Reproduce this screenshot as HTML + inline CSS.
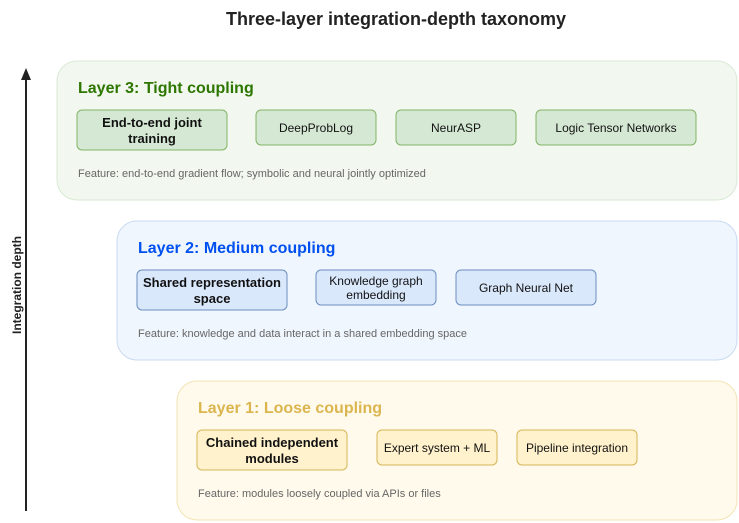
<!DOCTYPE html>
<html><head><meta charset="utf-8"><style>
html,body{margin:0;padding:0;background:#fff}
svg{display:block;font-family:"Liberation Sans",Arial,sans-serif}
</style></head><body>
<svg width="739" height="523" viewBox="0 0 739 523" xmlns="http://www.w3.org/2000/svg">
<text x="396" y="25" font-size="18" font-weight="bold" text-anchor="middle" fill="#222">Three-layer integration-depth taxonomy</text>
<line x1="26" y1="78" x2="26" y2="511" stroke="#222" stroke-width="2"/>
<polygon points="26,68 21,80 31,80" fill="#222"/>
<text transform="translate(21,285) rotate(-90)" font-size="12" font-weight="bold" text-anchor="middle" fill="#222">Integration depth</text>

<!-- Layer 3 -->
<rect x="57" y="61" width="680" height="139" rx="20" fill="#f2f8ef" stroke="#d9e9d5"/>
<text x="78" y="93" font-size="16" font-weight="bold" fill="#2d7600">Layer 3: Tight coupling</text>
<rect x="77" y="110" width="150" height="40" rx="5" fill="#d5e8d4" stroke="#82b366"/>
<text x="152" y="127" font-size="13" font-weight="bold" text-anchor="middle" fill="#111">End-to-end joint</text>
<text x="152" y="143" font-size="13" font-weight="bold" text-anchor="middle" fill="#111">training</text>
<rect x="256" y="110" width="120" height="35" rx="5" fill="#d5e8d4" stroke="#82b366"/>
<text x="316" y="132" font-size="12" text-anchor="middle" fill="#111">DeepProbLog</text>
<rect x="396" y="110" width="120" height="35" rx="5" fill="#d5e8d4" stroke="#82b366"/>
<text x="456" y="132" font-size="12" text-anchor="middle" fill="#111">NeurASP</text>
<rect x="536" y="110" width="160" height="35" rx="5" fill="#d5e8d4" stroke="#82b366"/>
<text x="616" y="132" font-size="12" text-anchor="middle" fill="#111">Logic Tensor Networks</text>
<text x="78" y="177" font-size="11" fill="#666">Feature: end-to-end gradient flow; symbolic and neural jointly optimized</text>

<!-- Layer 2 -->
<rect x="117" y="221" width="620" height="139" rx="20" fill="#f0f6fe" stroke="#c8daf0"/>
<text x="138" y="253" font-size="16" font-weight="bold" fill="#0050ef">Layer 2: Medium coupling</text>
<rect x="137" y="270" width="150" height="40" rx="5" fill="#dae8fc" stroke="#6c8ebf"/>
<text x="212" y="287" font-size="13" font-weight="bold" text-anchor="middle" fill="#111">Shared representation</text>
<text x="212" y="303" font-size="13" font-weight="bold" text-anchor="middle" fill="#111">space</text>
<rect x="316" y="270" width="120" height="35" rx="5" fill="#dae8fc" stroke="#6c8ebf"/>
<text x="376" y="285" font-size="12" text-anchor="middle" fill="#111">Knowledge graph</text>
<text x="376" y="299" font-size="12" text-anchor="middle" fill="#111">embedding</text>
<rect x="456" y="270" width="140" height="35" rx="5" fill="#dae8fc" stroke="#6c8ebf"/>
<text x="526" y="292" font-size="12" text-anchor="middle" fill="#111">Graph Neural Net</text>
<text x="138" y="337" font-size="11" fill="#666">Feature: knowledge and data interact in a shared embedding space</text>

<!-- Layer 1 -->
<rect x="177" y="381" width="560" height="139" rx="20" fill="#fffaec" stroke="#f3e4b4"/>
<text x="198" y="413" font-size="16" font-weight="bold" fill="#dbb54e">Layer 1: Loose coupling</text>
<rect x="197" y="430" width="150" height="40" rx="5" fill="#fff2cc" stroke="#d6b656"/>
<text x="272" y="447" font-size="13" font-weight="bold" text-anchor="middle" fill="#111">Chained independent</text>
<text x="272" y="463" font-size="13" font-weight="bold" text-anchor="middle" fill="#111">modules</text>
<rect x="377" y="430" width="120" height="35" rx="5" fill="#fff2cc" stroke="#d6b656"/>
<text x="437" y="452" font-size="12" text-anchor="middle" fill="#111">Expert system + ML</text>
<rect x="517" y="430" width="120" height="35" rx="5" fill="#fff2cc" stroke="#d6b656"/>
<text x="577" y="452" font-size="12" text-anchor="middle" fill="#111">Pipeline integration</text>
<text x="198" y="497" font-size="11" fill="#666">Feature: modules loosely coupled via APIs or files</text>
</svg>
</body></html>
